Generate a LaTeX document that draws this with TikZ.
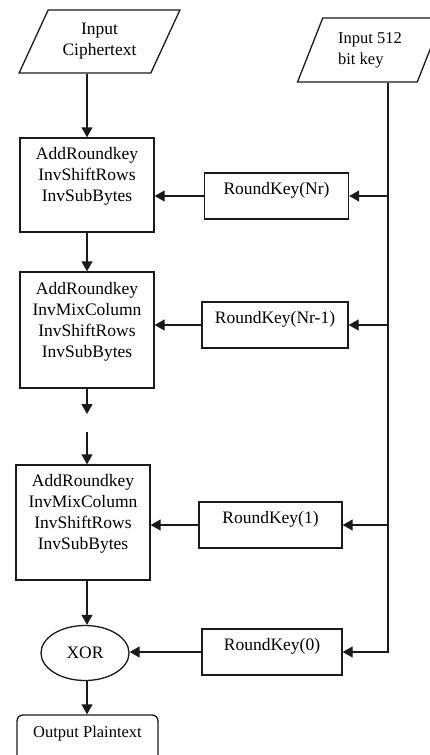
\documentclass[tikz,border=0pt]{standalone}
\usepackage{fontspec}
\setmainfont{Liberation Serif}
\usetikzlibrary{shapes.geometric,arrows.meta}
\definecolor{line}{HTML}{1a1a1a}

\begin{document}
\begin{tikzpicture}[x=1pt,y=-1pt,
  every node/.style={font=\fontsize{17.5}{21}\selectfont, text=black},
  stage/.style={draw=line, line width=1.3pt, align=center, minimum width=134pt, text depth=21pt},
  roundkey/.style={draw=line, line width=1.3pt, minimum height=46pt, text depth=16pt},
  io/.style={draw=line, line width=1.3pt, trapezium, trapezium stretches=true, align=center},
  flow/.style={draw=line, line width=1.3pt, -{Triangle[length=10pt,width=11pt]}}]
\useasboundingbox (0,0) rectangle (430,755);
\node[io, trapezium left angle=62, trapezium right angle=118, minimum width=161pt, minimum height=63pt] (cipher) at (99.5,41.5) {Input\\Ciphertext};
\node[io, trapezium left angle=66, trapezium right angle=114, minimum width=145pt, minimum height=64pt, align=left, font=\fontsize{16.5}{21}\selectfont] (key) at (370,50) {Input 512\\bit key};
\node[stage, minimum height=94pt] (box1) at (87,185) {AddRoundkey\\InvShiftRows\\InvSubBytes};
\node[stage, minimum height=116pt] (box2) at (87,330) {AddRoundkey\\InvMixColumn\\InvShiftRows\\InvSubBytes};
\node[stage, minimum height=115pt] (box3) at (83,522.5) {AddRoundkey\\InvMixColumn\\InvShiftRows\\InvSubBytes};
\node[roundkey, minimum width=144pt] (rkNr) at (276.5,196) {RoundKey(Nr)};
\node[roundkey, minimum width=146pt] (rkNr1) at (275,325) {RoundKey(Nr-1)};
\node[roundkey, minimum width=143pt] (rk1) at (270.5,525) {RoundKey(1)};
\node[roundkey, minimum width=140pt] (rk0) at (272,652) {RoundKey(0)};
\node[draw=line, line width=1.3pt, ellipse, minimum width=88pt, minimum height=55pt] (xor) at (85,653) {XOR};
\node[draw=line, line width=1.3pt, rounded corners=6pt, minimum width=141pt, minimum height=46pt, text depth=13pt, font=\fontsize{16.5}{21}\selectfont] (out) at (87.5,738) {Output Plaintext};
\coordinate (brk1) at (87,414);
\coordinate (brk2) at (87,432);
\coordinate (bus) at (388,652);
\draw[flow] (cipher.south -| box1.north) -- (box1.north);
\draw[flow] (box1.south) -- (box2.north);
\draw[flow] (box2.south) -- (brk1);
\draw[flow] (brk2) -- (brk2 |- box3.north);
\draw[flow] (box3.south -| brk2) -- (xor.north -| brk2);
\draw[flow] (xor.south -| brk2) -- (out.north -| brk2);
\draw[flow] (key.south -| bus) |- (rk0.east);
\foreach \k in {rkNr,rkNr1,rk1}
  \draw[flow] (\k.east -| bus) -- (\k.east);
\foreach \k/\b in {rkNr/box1,rkNr1/box2,rk1/box3}
  \draw[flow] (\k.west) -- (\k.west -| \b.east);
\draw[flow] (rk0.west) -- (rk0.west -| xor.east);
\end{tikzpicture}
\end{document}
